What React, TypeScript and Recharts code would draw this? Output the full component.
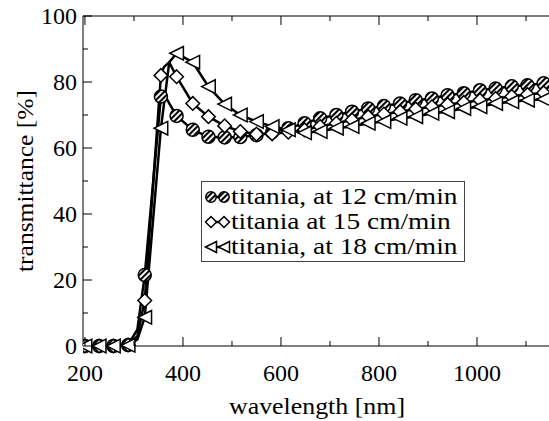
import React from "react";
import { LineChart, Line, XAxis, YAxis, Legend } from "recharts";

// wavelength [nm] of each sample (markers drawn at all but the line-only points)
const wavelength = [
  200, 229, 258, 288, 307, 322, 355, 361, 372, 387, 420, 452, 485, 517, 550,
  582, 615, 648, 680, 713, 745, 778, 810, 843, 875, 908, 940, 973, 1006, 1038,
  1071, 1103, 1136, 1168,
];
const lineOnlyWavelength = [307, 361, 372];

// transmittance [%]
const rate12 = [
  0, 0, 0, 0.3, 5, 21.5, 75.6, 76.5, 73.5, 69.7, 65.5, 63.4, 63.2, 63.3, 63.9,
  64.8, 66, 67.5, 69, 70, 71, 72, 72.7, 73.5, 74.5, 75, 76, 76.6, 77.5, 78,
  78.7, 79, 79.6, 80,
];
const rate15 = [
  0, 0, 0, 0.3, 3, 13.8, 82, 84.5, 86, 81.6, 73.5, 69.5, 66.7, 65, 64.2, 64.3,
  64.8, 65.5, 66.5, 67.5, 68.5, 69.5, 70.3, 71, 71.8, 72.5, 73.2, 73.8, 74.5,
  75, 75.6, 76.2, 76.7, 77.2,
];
const rate18 = [
  0, 0, 0, 0.2, 2, 8.7, 66, 73, 86, 88.7, 86, 78.6, 73.3, 70, 68, 66.5, 65.5,
  64.6, 65, 66, 66.5, 67.5, 68, 69, 69.5, 70.5, 71, 72, 72.5, 73.5, 74, 74.5,
  74.8, 75.2,
];

const seriesKeys = ["r12", "r15", "r18"];
const seriesNames = [
  "titania, at 12 cm/min",
  "titania at 15 cm/min",
  "titania, at 18 cm/min",
];

const xTicks = [200, 300, 400, 500, 600, 700, 800, 900, 1000, 1100];
const yTicks = [0, 10, 20, 30, 40, 50, 60, 70, 80, 90, 100];

const data = wavelength.map((wl, i) => ({
  wl,
  r12: rate12[i],
  r15: rate15[i],
  r18: rate18[i],
}));

const FONT = "'Liberation Serif', 'Times New Roman', serif";
const X_DOMAIN = [196, 1151];
const shapes: Record<string, string> = { r12: "circle", r15: "diamond", r18: "triangle" };

function Marker({ shape, cx, cy, s = 6.8 }: { shape: string; cx: number; cy: number; s?: number }) {
  const common = { stroke: "#000", strokeWidth: 1.5 };
  if (shape === "circle") {
    return <circle cx={cx} cy={cy} r={s - 0.3} fill="url(#hatch)" {...common} />;
  }
  if (shape === "diamond") {
    return (
      <polygon
        points={`${cx},${cy - s} ${cx + s},${cy} ${cx},${cy + s} ${cx - s},${cy}`}
        fill="#fff"
        {...common}
      />
    );
  }
  return (
    <polygon
      points={`${cx - s},${cy} ${cx + s},${cy - s} ${cx + s},${cy + s}`}
      fill="#fff"
      {...common}
    />
  );
}

const makeDot = (shape: string) => (props: any) => {
  const { cx, cy, payload, index } = props;
  if (cx == null || cy == null || lineOnlyWavelength.includes(payload.wl)) {
    return <g key={`d-${shape}-${index}`} />;
  }
  return <Marker key={`d-${shape}-${index}`} shape={shape} cx={cx} cy={cy} />;
};

const BottomTick = (props: any) => {
  const { x, y, payload } = props;
  const major = payload.value % 200 === 0;
  return (
    <g>
      <line x1={x} y1={y} x2={x} y2={y - (major ? 9 : 5)} stroke="#000" strokeWidth={1} />
      {major && (
        <text x={x} y={y + 35} textAnchor="middle" fontSize={24} fontFamily={FONT} fill="#000">
          {payload.value}
        </text>
      )}
    </g>
  );
};

const TopTick = (props: any) => {
  const { x, y, payload } = props;
  const major = payload.value % 200 === 0;
  return <line x1={x} y1={y} x2={x} y2={y + (major ? 9 : 5)} stroke="#000" strokeWidth={1} />;
};

const LeftTick = (props: any) => {
  const { x, y, payload } = props;
  const major = payload.value % 20 === 0;
  return (
    <g>
      <line x1={x} y1={y} x2={x + (major ? 9 : 5)} y2={y} stroke="#000" strokeWidth={1} />
      {major && (
        <text x={x - 6} y={y + 8} textAnchor="end" fontSize={24} fontFamily={FONT} fill="#000">
          {payload.value}
        </text>
      )}
    </g>
  );
};

const RightTick = (props: any) => {
  const { x, y, payload } = props;
  const major = payload.value % 20 === 0;
  return <line x1={x} y1={y} x2={x - (major ? 9 : 5)} y2={y} stroke="#000" strokeWidth={1} />;
};

const LegendBox = (props: any) => {
  const { payload = [] } = props;
  const ordered = [...payload].sort(
    (a: any, b: any) => seriesKeys.indexOf(a.dataKey) - seriesKeys.indexOf(b.dataKey)
  );
  return (
    <div
      style={{
        width: 255,
        border: "1px solid #444",
        background: "#fff",
        padding: "2px 4px 2px 3px",
        fontFamily: FONT,
        fontSize: 24,
        lineHeight: "25px",
        color: "#000",
      }}
    >
      {ordered.map((entry: any) => {
        const shape = shapes[entry.dataKey];
        return (
          <div key={entry.dataKey} style={{ display: "flex", alignItems: "center", height: 25 }}>
            <svg width={26} height={20} style={{ overflow: "visible", flex: "none" }}>
              <line x1={6} y1={10} x2={19} y2={10} stroke="#000" strokeWidth={2.5} />
              <Marker shape={shape} cx={6} cy={10} s={5.5} />
              <Marker shape={shape} cx={19} cy={10} s={5.5} />
            </svg>
            <span
              style={{
                display: "inline-block",
                transform: "scaleX(1.14)",
                transformOrigin: "left center",
                whiteSpace: "nowrap",
              }}
            >
              {entry.value}
            </span>
          </div>
        );
      })}
    </div>
  );
};

export default function App() {
  return (
    <div
      style={{
        position: "absolute",
        left: 0,
        top: 0,
        width: 549,
        height: 421,
        overflow: "hidden",
        background: "#fff",
      }}
    >
      <svg width={0} height={0} style={{ position: "absolute" }}>
        <defs>
          <pattern
            id="hatch"
            width={4}
            height={4}
            patternUnits="userSpaceOnUse"
            patternTransform="rotate(45)"
          >
            <rect width={4} height={4} fill="#fff" />
            <line x1={1} y1={0} x2={1} y2={4} stroke="#000" strokeWidth={2.2} />
          </pattern>
        </defs>
      </svg>
      <LineChart
        width={552}
        height={421}
        data={data}
        margin={{ top: 0, right: 0, bottom: 0, left: 0 }}
      >
        <XAxis
          xAxisId="b"
          dataKey="wl"
          type="number"
          domain={X_DOMAIN}
          allowDataOverflow
          ticks={xTicks}
          interval={0}
          tickSize={0}
          tickMargin={0}
          tickLine={false}
          axisLine={{ stroke: "#000", strokeWidth: 1 }}
          height={75}
          tick={<BottomTick />}
          label={{
            content: (p: any) => (
              <text
                x={p.viewBox.x + p.viewBox.width / 2}
                y={p.viewBox.y + 68}
                textAnchor="middle"
                fontSize={24}
                fontFamily={FONT}
                fill="#000"
                textLength={176}
                lengthAdjust="spacingAndGlyphs"
              >
                wavelength [nm]
              </text>
            ),
          }}
        />
        <XAxis
          xAxisId="t"
          orientation="top"
          dataKey="wl"
          type="number"
          domain={X_DOMAIN}
          allowDataOverflow
          ticks={xTicks}
          interval={0}
          tickSize={0}
          tickMargin={0}
          tickLine={false}
          axisLine={{ stroke: "#000", strokeWidth: 1 }}
          height={16}
          tick={<TopTick />}
        />
        <YAxis
          yAxisId="l"
          type="number"
          domain={[0, 100]}
          ticks={yTicks}
          interval={0}
          tickSize={0}
          tickMargin={0}
          tickLine={false}
          axisLine={{ stroke: "#000", strokeWidth: 1 }}
          width={83}
          tick={<LeftTick />}
          label={{
            content: (p: any) => {
              const cx = p.viewBox.x + 33;
              const cy = p.viewBox.y + p.viewBox.height / 2;
              return (
                <text
                  x={cx}
                  y={cy}
                  transform={`rotate(-90 ${cx} ${cy})`}
                  textAnchor="middle"
                  fontSize={24}
                  fontFamily={FONT}
                  fill="#000"
                  textLength={182}
                  lengthAdjust="spacingAndGlyphs"
                >
                  transmittance [%]
                </text>
              );
            },
          }}
        />
        <YAxis
          yAxisId="r"
          orientation="right"
          type="number"
          domain={[0, 100]}
          ticks={yTicks}
          interval={0}
          tickSize={0}
          tickMargin={0}
          tickLine={false}
          axisLine={{ stroke: "#000", strokeWidth: 1 }}
          width={1}
          tick={<RightTick />}
        />
        <Legend
          layout="horizontal"
          verticalAlign="middle"
          align="center"
          content={<LegendBox />}
          wrapperStyle={{ left: 201, top: 181, width: "auto" }}
        />
        <Line
          xAxisId="b"
          yAxisId="l"
          dataKey="r12"
          name={seriesNames[0]}
          stroke="#000"
          strokeWidth={2.5}
          dot={makeDot("circle")}
          activeDot={false}
          isAnimationActive={false}
        />
        <Line
          xAxisId="b"
          yAxisId="l"
          dataKey="r15"
          name={seriesNames[1]}
          stroke="#000"
          strokeWidth={2.5}
          dot={makeDot("diamond")}
          activeDot={false}
          isAnimationActive={false}
        />
        <Line
          xAxisId="b"
          yAxisId="l"
          dataKey="r18"
          name={seriesNames[2]}
          stroke="#000"
          strokeWidth={2.5}
          dot={makeDot("triangle")}
          activeDot={false}
          isAnimationActive={false}
        />
      </LineChart>
    </div>
  );
}
